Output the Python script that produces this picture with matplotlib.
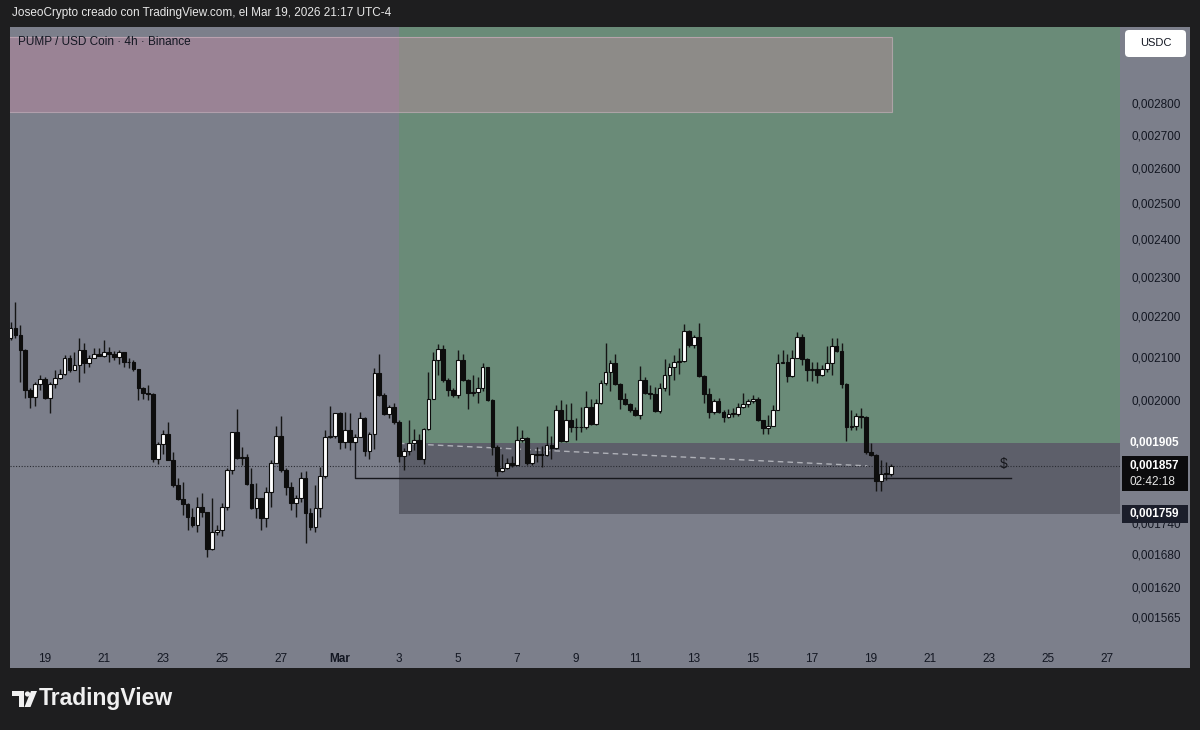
import matplotlib
matplotlib.use("Agg")
import matplotlib.pyplot as plt
import matplotlib.dates as mdates
import numpy as np
import pandas as pd
from matplotlib.patches import Rectangle, FancyBboxPatch, Polygon, Circle
from matplotlib.transforms import blended_transform_factory

plt.rcParams["font.family"] = ["Liberation Sans", "DejaVu Sans"]

# PUMP/USDC 4h candles, prices in millionths of USDC (1e-6)
first_open = 2145
high = [2186, 2236, 2178, 2119, 2027, 2042, 2058, 2053, 2042, 2070,
        2072, 2105, 2105, 2113, 2145, 2133, 2105, 2123, 2121, 2141,
        2125, 2114, 2117, 2113, 2097, 2093, 2071, 2031, 2035, 2017,
        1908, 1934, 1952, 1887, 1831, 1824, 1780, 1770, 1793, 1800,
        1763, 1790, 1737, 1780, 1852, 1930, 1980, 1898, 1883, 1852,
        1821, 1790, 1813, 1869, 1942, 1965, 1852, 1824, 1797, 1845,
        1846, 1770, 1817, 1855, 1934, 1987, 1972, 1974, 1974, 1971,
        1926, 1973, 1963, 1929, 2074, 2108, 2016, 1989, 1993, 1956,
        1895, 1956, 1937, 1925, 1939, 2066, 2113, 2131, 2129, 2050,
        2027, 2117, 2108, 2048, 2058, 2054, 2087, 2077, 2002, 1902,
        1883, 1873, 1877, 1943, 1934, 1918, 1883, 1898, 1899, 1943,
        1921, 1989, 2001, 1991, 1993, 1960, 1985, 2022, 2004, 2002,
        2046, 2133, 2093, 2108, 2040, 2016, 1993, 1985, 2079, 2054,
        2035, 2031, 2040, 2095, 2086, 2105, 2123, 2180, 2166, 2153,
        2183, 2058, 2027, 2004, 2006, 1978, 1980, 1982, 1993, 2017,
        2004, 2012, 2008, 1956, 1967, 1989, 2108, 2117, 2108, 2117,
        2160, 2157, 2097, 2089, 2089, 2082, 2126, 2145, 2145, 2133,
        2040, 1978, 1971, 1982, 1965, 1906, 1882, 1869, 1866, 1860]
low = [2141, 2145, 2042, 2006, 1982, 1987, 2023, 2004, 1971, 2027,
       2048, 2058, 2066, 2070, 2042, 2063, 2076, 2097, 2102, 2101,
       2089, 2093, 2084, 2076, 2074, 2068, 2001, 2004, 2001, 1866,
       1861, 1882, 1869, 1813, 1786, 1757, 1728, 1733, 1724, 1753,
       1675, 1688, 1717, 1715, 1766, 1841, 1871, 1859, 1817, 1768,
       1750, 1727, 1732, 1773, 1864, 1845, 1797, 1766, 1753, 1782,
       1701, 1727, 1724, 1753, 1831, 1916, 1916, 1893, 1895, 1891,
       1905, 1918, 1877, 1871, 1893, 2010, 1967, 1960, 1948, 1866,
       1848, 1880, 1891, 1871, 1862, 1934, 2002, 2058, 2042, 2010,
       2008, 2006, 2045, 1980, 2010, 1993, 2021, 1999, 1879, 1836,
       1845, 1850, 1854, 1858, 1908, 1859, 1859, 1866, 1854, 1877,
       1871, 1893, 1908, 1908, 1930, 1913, 1929, 1936, 1945, 1945,
       1991, 2035, 2021, 2035, 1980, 1989, 1974, 1965, 1958, 2014,
       2002, 1974, 1972, 2021, 2012, 2046, 2061, 2089, 2125, 2121,
       2054, 1995, 1960, 1969, 1971, 1952, 1960, 1963, 1965, 1982,
       1984, 1995, 1954, 1925, 1926, 1942, 1978, 2086, 2042, 2054,
       2097, 2082, 2045, 2045, 2040, 2056, 2066, 2058, 2113, 2029,
       1911, 1934, 1934, 1938, 1882, 1877, 1806, 1806, 1827, 1835]
close = [2171, 2153, 2117, 2023, 2008, 2037, 2048, 2006, 2037, 2050,
         2060, 2099, 2070, 2082, 2117, 2087, 2099, 2107, 2104, 2113,
         2107, 2101, 2112, 2089, 2088, 2071, 2027, 2016, 2014, 1871,
         1903, 1925, 1869, 1817, 1788, 1779, 1753, 1736, 1773, 1763,
         1691, 1724, 1727, 1772, 1848, 1930, 1873, 1875, 1819, 1770,
         1790, 1750, 1802, 1864, 1921, 1848, 1813, 1780, 1790, 1831,
         1761, 1733, 1770, 1835, 1919, 1921, 1971, 1908, 1934, 1908,
         1919, 1961, 1889, 1925, 2063, 2012, 1969, 1984, 1952, 1877,
         1889, 1906, 1913, 1872, 1936, 2004, 2093, 2119, 2046, 2023,
         2012, 2093, 2046, 2017, 2019, 2027, 2076, 2001, 1898, 1846,
         1852, 1864, 1858, 1912, 1916, 1864, 1882, 1881, 1880, 1902,
         1896, 1978, 1911, 1956, 1941, 1940, 1941, 1985, 1947, 1993,
         2040, 2066, 2086, 2037, 2002, 1991, 1978, 1967, 2046, 2016,
         2015, 1977, 2029, 2058, 2076, 2089, 2091, 2164, 2129, 2149,
         2056, 2014, 1974, 1998, 1974, 1962, 1969, 1970, 1985, 1991,
         1998, 2004, 1956, 1938, 1943, 1978, 2086, 2089, 2056, 2099,
         2149, 2095, 2070, 2071, 2058, 2071, 2086, 2126, 2115, 2037,
         1940, 1943, 1965, 1963, 1887, 1880, 1826, 1841, 1840, 1857]

price_ticks = [2800, 2700, 2600, 2500, 2400, 2300, 2200, 2100, 2000,
               1740, 1680, 1620, 1565]
date_ticks = pd.date_range("2026-02-19", "2026-03-27", freq="2D")
date_labels = ["19", "21", "23", "25", "27", "Mar", "3", "5", "7", "9", "11",
               "13", "15", "17", "19", "21", "23", "25", "27"]

entry_price = 1905
stop_price = 1759
last_price = 1857
level_price = 1831
zone_low, zone_high = 2772, 3017

S = 1e-6
high = np.array(high) * S
low = np.array(low) * S
close = np.array(close) * S
opens = np.concatenate([[first_open * S], close[:-1]])
times = pd.date_range("2026-02-17 20:00", periods=len(close), freq="4h")
x = mdates.date2num(times)

W, H = 1200, 730
def fx(px):
    return px / W
def fy(py):
    return 1 - py / H

fig = plt.figure(figsize=(12, 7.3), dpi=100)
fig.patch.set_facecolor("#1e1e1f")

GRAY = "#7c7f8b"
INK = "#131722"

# chart panel background
fig.patches.append(Rectangle((fx(10), fy(668)), fx(1180), 641 / H,
                             transform=fig.transFigure, facecolor=GRAY,
                             edgecolor="none", zorder=-1))

ax = fig.add_axes([fx(10), fy(640), fx(1110), 613 / H])
ax.set_facecolor(GRAY)
for s in ax.spines.values():
    s.set_visible(False)
ax.set_yscale("log")
ax.set_ylim(0.001525, 0.003051)
x0 = mdates.date2num(pd.Timestamp("2026-02-19"))
ax.set_xlim(x0 - 1.186, x0 + 36.44)

# long position tool
t_entry = mdates.date2num(pd.Timestamp("2026-03-03 00:00"))
ax.add_patch(Rectangle((t_entry, entry_price * S), 40, 0.004 - entry_price * S,
                       facecolor="#6a8b78", edgecolor="none", zorder=0.5))
ax.add_patch(Rectangle((t_entry, stop_price * S), 40, (entry_price - stop_price) * S,
                       facecolor="#5d5f6a", edgecolor="none", zorder=0.5))
t_dash = mdates.date2num(pd.Timestamp("2026-03-18 21:00"))
ax.plot([t_entry, t_dash], [entry_price * S, last_price * S], color="#afb1b8",
        lw=1, ls=(0, (4, 3)), zorder=1)

# pink zone at the top
t_zone = mdates.date2num(pd.Timestamp("2026-03-19 17:00"))
ax.add_patch(Rectangle((x0 - 5, zone_low * S), t_zone - x0 + 5, (zone_high - zone_low) * S,
                       facecolor="#da8cab", alpha=0.32, edgecolor="none", zorder=0.8))
ax.add_patch(Rectangle((x0 - 5, zone_low * S), t_zone - x0 + 5, (zone_high - zone_low) * S,
                       facecolor="none", edgecolor="#c9aebb", lw=0.8, alpha=0.7, zorder=0.9))

# current price dotted line
ax.axhline(last_price * S, color="#2a2c33", lw=0.8, ls=(0, (1, 1.5)), zorder=1)

# horizontal level
t_l0 = mdates.date2num(pd.Timestamp("2026-03-01 12:00"))
t_l1 = mdates.date2num(pd.Timestamp("2026-03-23 18:00"))
ax.plot([t_l0, t_l0, t_l1], [1908 * S, level_price * S, level_price * S],
        color="#16171c", lw=1, zorder=2)
ax.text(mdates.date2num(pd.Timestamp("2026-03-23 12:00")), 1862 * S, "$",
        color="#16171c", fontsize=10, ha="center", va="center", zorder=2)

# candles
up = close >= opens
ax.vlines(x, low, high, color="#151515", lw=1.0, zorder=3)
ax.bar(x, np.maximum(np.abs(close - opens), 1.5e-6), bottom=np.minimum(opens, close),
       width=0.125, color=np.where(up, "#ffffff", "#0d0d0d"),
       edgecolor="#0d0d0d", linewidth=0.8, zorder=4)

# price scale
ax.yaxis.tick_right()
ax.set_yticks([p * S for p in price_ticks])
ax.set_yticklabels([f"0,{p:06d}" for p in price_ticks])
ax.yaxis.set_minor_locator(matplotlib.ticker.NullLocator())
ax.tick_params(axis="y", length=0, pad=8, labelsize=8.5, labelcolor=INK)

# date scale
ax.set_xticks(mdates.date2num(date_ticks))
ax.set_xticklabels(date_labels)
ax.tick_params(axis="x", length=0, pad=9, labelsize=8.5, labelcolor=INK)
for lab in ax.get_xticklabels():
    if lab.get_text() == "Mar":
        lab.set_fontweight("bold")

# price scale badges
tr = blended_transform_factory(fig.transFigure, ax.transData)
fig.text(fx(1130), entry_price * S, "0,001905", transform=tr, color="white",
         fontsize=8.5, fontweight="bold", va="center")
fig.patches.append(Rectangle((fx(1122), fy(491)), fx(66), 35 / H,
                             transform=fig.transFigure, facecolor="#0b0b0d",
                             edgecolor="none"))
fig.text(fx(1130), last_price * S, "0,001857", transform=tr, color="white",
         fontsize=8.5, fontweight="bold", va="center")
fig.text(fx(1130), fy(482), "02:42:18", color="#e6e6e6", fontsize=8.5, va="center")
fig.patches.append(Rectangle((fx(1122), fy(523)), fx(66), 18 / H,
                             transform=fig.transFigure, facecolor="#1b1e2b",
                             edgecolor="none"))
fig.text(fx(1130), stop_price * S, "0,001759", transform=tr, color="white",
         fontsize=8.5, fontweight="bold", va="center")

# USDC button
fig.patches.append(FancyBboxPatch((1125, H - 57), 61, 27,
                                  boxstyle="round,pad=0,rounding_size=4",
                                  transform=None, facecolor="white", edgecolor="none"))
fig.text(fx(1155.5), fy(43.5), "USDC", color=INK, fontsize=8, ha="center", va="center")

# texts
fig.text(fx(12), fy(13), "JoseoCrypto creado con TradingView.com, el Mar 19, 2026 21:17 UTC-4",
         color="#e8e8e8", fontsize=8.5, va="center")
fig.text(fx(18), fy(42), "PUMP / USD Coin · 4h · Binance", color=INK, fontsize=8.5,
         va="center")

# TradingView logo
logo = "#f0f0f0"
fig.patches.append(Polygon([(12, H - 691), (24, H - 691), (24, H - 707), (18.5, H - 707),
                            (18.5, H - 696), (12, H - 696)], closed=True,
                           transform=None, facecolor=logo, edgecolor="none"))
fig.patches.append(Circle((27.5, H - 694), 2.6, transform=None, facecolor=logo,
                          edgecolor="none"))
fig.patches.append(Polygon([(31, H - 691), (37, H - 691), (30.5, H - 707), (24.5, H - 707)],
                           closed=True, transform=None, facecolor=logo, edgecolor="none"))
fig.text(fx(39), fy(699), "TradingView", color=logo, fontsize=16.5,
         fontweight="bold", va="center")

fig.savefig("out.png", dpi=100, facecolor=fig.get_facecolor())
